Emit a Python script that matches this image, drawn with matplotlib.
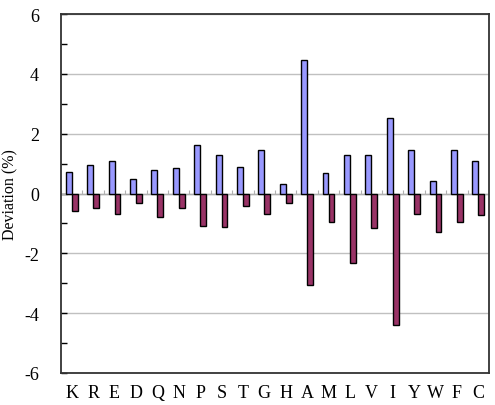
import numpy as np
import matplotlib
matplotlib.use("Agg")
import matplotlib.pyplot as plt

plt.rcParams['font.family'] = ['Liberation Serif', 'DejaVu Serif']
plt.rcParams['axes.unicode_minus'] = False

residues = ['K', 'R', 'E', 'D', 'Q', 'N', 'P', 'S', 'T', 'G',
            'H', 'A', 'M', 'L', 'V', 'I', 'Y', 'W', 'F', 'C']
# values (%)
positive = [0.72, 0.96, 1.07, 0.50, 0.80, 0.86, 1.63, 1.29, 0.90, 1.44,
            0.31, 4.45, 0.68, 1.28, 1.30, 2.54, 1.47, 0.43, 1.47, 1.09]
negative = [-0.59, -0.50, -0.69, -0.32, -0.78, -0.49, -1.07, -1.12, -0.41, -0.70,
            -0.33, -3.06, -0.94, -2.33, -1.14, -4.41, -0.67, -1.30, -0.96, -0.73]

fig = plt.figure(figsize=(4.95, 4.06), dpi=100)
ax = fig.add_axes([61 / 495, 32 / 406, 428 / 495, 359 / 406])

x = np.arange(len(residues))
w = 0.28
ax.bar(x - w / 2, positive, w, color='#9999ff', edgecolor='black', linewidth=1.0, zorder=3)
ax.bar(x + w / 2, negative, w, color='#993366', edgecolor='black', linewidth=1.0, zorder=3)

# zero line with little category ticks
ax.axhline(0, color='#b0b0b0', linewidth=1.0, zorder=2)
ax.vlines(np.arange(len(residues) + 1) - 0.5, 0, 0.12, colors='#b0b0b0', linewidth=0.8, zorder=2)

ax.set_xlim(-0.5, len(residues) - 0.5)
ax.set_ylim(-6, 6)
ax.set_yticks(np.arange(-6, 7, 2))
ax.set_yticks(np.arange(-5, 6, 2), minor=True)
ax.yaxis.grid(True, color='#c0c0c0', linewidth=1.0, zorder=0)
ax.set_axisbelow(True)
ax.tick_params(axis='y', which='both', direction='in', length=4, width=1, labelsize=13, pad=16)
ax.set_xticks(x)
ax.set_xticklabels(residues)
ax.tick_params(axis='x', length=0, labelsize=13, pad=8)
ax.set_ylabel('Deviation (%)', fontsize=11.5, labelpad=4)
for s in ax.spines.values():
    s.set_linewidth(1.3)
    s.set_color('#333333')

fig.savefig('out.png', dpi=100)
